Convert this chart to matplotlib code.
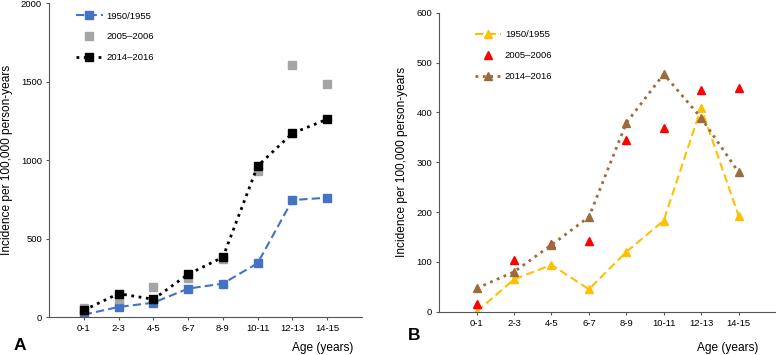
import numpy as np
import matplotlib
matplotlib.use("Agg")
import matplotlib.pyplot as plt

plt.rcParams['font.family'] = ['Liberation Sans', 'DejaVu Sans']

ages = ['0-1', '2-3', '4-5', '6-7', '8-9', '10-11', '12-13', '14-15']
labels = ['1950/1955', '2005\u20132006', '2014\u20132016']

# panel A
a_1950 = [15, 64, 91, 181, 213, 343, 745, 760]
a_2005 = [60, 113, 191, 249, 372, 932, 1604, 1487]
a_2014 = [43, 149, 113, 272, 381, 962, 1170, 1260]

# panel B
b_1950 = [0, 65, 94, 45, 120, 183, 409, 193]
b_2005 = [15, 104, 136, 141, 344, 368, 445, 449]
b_2014 = [47, 80, 134, 190, 379, 477, 389, 280]

x = np.arange(len(ages))

fig = plt.figure(figsize=(7.76, 3.55), dpi=100)
axA = fig.add_axes([0.0631, 0.107, 0.4034, 0.8845])
axB = fig.add_axes([0.566, 0.122, 0.434, 0.842])


def style(ax, ymax, step):
    ax.spines['top'].set_visible(False)
    ax.spines['right'].set_visible(False)
    ax.spines['left'].set_color('#555555')
    ax.spines['bottom'].set_color('#555555')
    ax.set_xlim(-1, 8)
    ax.set_ylim(0, ymax)
    ax.set_yticks(np.arange(0, ymax + 1, step))
    ax.set_xticks(x)
    ax.set_xticklabels(ages)
    ax.tick_params(labelsize=6.8, length=2.5, color='#555555', pad=2.5)
    ax.set_ylabel('Incidence per 100,000 person-years', fontsize=8.6, labelpad=6)


# A
axA.plot(x, a_1950, '--s', color='#4472C4', ms=5.5, lw=1.5, dashes=(4, 2), label=labels[0])
axA.plot(x, a_2005, 's', color='#A5A5A5', ms=5.5, label=labels[1])
axA.plot(x, a_2014, ':s', color='black', ms=5.5, lw=2, label=labels[2])
style(axA, 2000, 500)
axA.yaxis.set_label_coords(-0.115, 0.5)
axA.legend(loc='upper left', bbox_to_anchor=(0.06, 1.0), frameon=False, fontsize=6.8,
           handlelength=2.8, labelspacing=1.25, handletextpad=0.4)
fig.text(0.017, 0.014, 'A', fontsize=12.5, fontweight='bold')
fig.text(0.455, 0.012, 'Age (years)', fontsize=8.6, ha='right')

# B
axB.plot(x, b_1950, '--^', color='#FFC000', ms=5.5, lw=1.5, dashes=(4, 2), label=labels[0])
axB.plot(x, b_2005, '^', color='#FF0000', ms=5.5, label=labels[1])
axB.plot(x, b_2014, ':^', color='#9C6B3C', ms=5.5, lw=2, label=labels[2])
style(axB, 600, 100)
axB.legend(loc='upper left', bbox_to_anchor=(0.08, 0.97), frameon=False, fontsize=6.8,
           handlelength=2.8, labelspacing=1.25, handletextpad=0.4)
fig.text(0.526, 0.042, 'B', fontsize=12.5, fontweight='bold')
fig.text(0.977, 0.012, 'Age (years)', fontsize=8.6, ha='right')

fig.savefig('out.png', dpi=100)
